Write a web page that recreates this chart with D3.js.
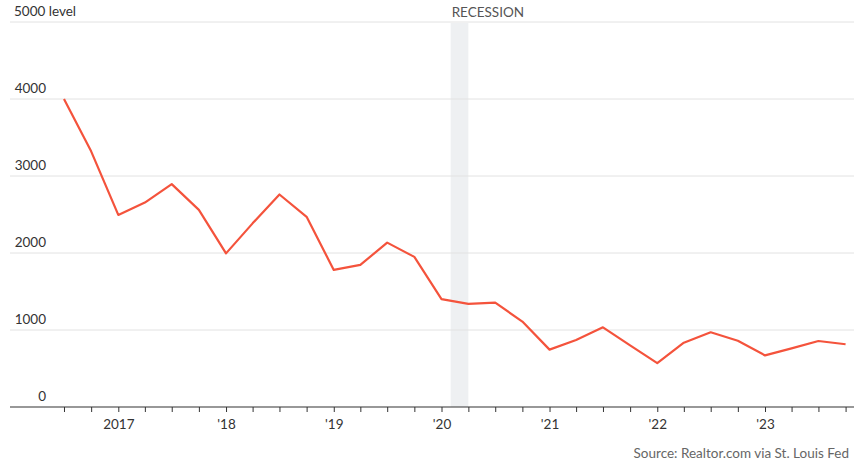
<!DOCTYPE html>
<html>
<head>
<meta charset="utf-8">
<script src="https://cdn.jsdelivr.net/npm/d3@7"></script>
<style>
  body { margin: 0; background: #fff; }
  text { font-family: Lato, "Open Sans", sans-serif; }
</style>
</head>
<body>
<script>
/*
DATA
*/
const quarters = ["2016-07-01", "2016-10-01",
  "2017-01-01", "2017-04-01", "2017-07-01", "2017-10-01",
  "2018-01-01", "2018-04-01", "2018-07-01", "2018-10-01",
  "2019-01-01", "2019-04-01", "2019-07-01", "2019-10-01",
  "2020-01-01", "2020-04-01", "2020-07-01", "2020-10-01",
  "2021-01-01", "2021-04-01", "2021-07-01", "2021-10-01",
  "2022-01-01", "2022-04-01", "2022-07-01", "2022-10-01",
  "2023-01-01", "2023-04-01", "2023-07-01", "2023-10-01"]
const levels = [4000, 3320,
  2495, 2655, 2895, 2560,
  1995, 2385, 2760, 2470,
  1780, 1845, 2135, 1950,
  1400, 1340, 1355, 1110,
  745, 870, 1035, 800,
  570, 835, 970, 860,
  670, 762, 857, 815]
const yTicks = [0, 1000, 2000, 3000, 4000, 5000]
const yearLabels = ["2017", "'18", "'19", "'20", "'21", "'22", "'23"]
const recession = ["2020-02-01", "2020-04-01"]
const source = "Source: Realtor.com via St. Louis Fed"

/*
SET UP
*/
const w = 854
const h = 463
const m = ({top: 22, right: 0, bottom: 56, left: 10})
const fs = 13.5

const parse = d3.timeParse("%Y-%m-%d")
const data = quarters.map((q, i) => ({date: parse(q), value: levels[i]}))

const svg = d3.select("body")
  .append("svg")
  .attr("width", w)
  .attr("height", h)

const x = d3.scaleTime()
  .domain([parse("2017-01-01"), parse("2023-01-01")])
  .range([118.3, 765])

const y = d3.scaleLinear()
  .domain([0, 5000])
  .range([h - m.bottom, m.top])

/*
RECESSION BAND
*/
svg.append("rect")
  .attr("x", x(parse(recession[0])))
  .attr("width", x(parse(recession[1])) - x(parse(recession[0])))
  .attr("y", y(5000) + 1)
  .attr("height", y(0) - y(5000) - 1)
  .attr("fill", "#eef0f2")

svg.append("text")
  .attr("x", x(parse(recession[0])) + 1)
  .attr("y", 17)
  .attr("fill", "#555")
  .attr("font-size", fs)
  .text("RECESSION")

/*
GRIDLINES + Y LABELS
*/
svg.selectAll(".grid")
  .data(yTicks.filter(d => d > 0))
  .join("line")
  .attr("class", "grid")
  .attr("x1", m.left)
  .attr("x2", w)
  .attr("y1", d => y(d))
  .attr("y2", d => y(d))
  .attr("stroke", "#e2e2e2")
  .attr("stroke-width", 1)

svg.selectAll(".ylabel")
  .data(yTicks)
  .join("text")
  .attr("class", "ylabel")
  .attr("x", d => d === 5000 ? 14 : 46)
  .attr("y", d => y(d) - 6)
  .attr("text-anchor", d => d === 5000 ? "start" : "end")
  .attr("fill", "#333")
  .attr("font-size", fs)
  .text(d => d === 5000 ? "5000 level" : d)

/*
X AXIS
*/
const xAxis = d3.axisBottom(x)
  .tickValues(quarters.map(parse))
  .tickSize(5)
  .tickFormat(d => d.getMonth() === 0 ? yearLabels[d.getFullYear() - 2017] : "")

const gx = svg.append("g")
  .attr("transform", `translate(0,${y(0)})`)
  .call(xAxis)

gx.select(".domain").remove()
gx.selectAll(".tick line").attr("stroke", "#333")
gx.selectAll(".tick text")
  .attr("fill", "#333")
  .attr("font-size", fs)
  .attr("font-family", "Lato, sans-serif")
  .attr("dy", "1.05em")

gx.append("line")
  .attr("x1", m.left)
  .attr("x2", w)
  .attr("stroke", "#333")
  .attr("stroke-width", 1.2)

/*
LINE
*/
const line = d3.line()
  .x(d => x(d.date))
  .y(d => y(d.value))

svg.append("path")
  .datum(data)
  .attr("d", line)
  .attr("fill", "none")
  .attr("stroke", "#f4533c")
  .attr("stroke-width", 2.2)
  .attr("stroke-linejoin", "round")

svg.append("text")
  .attr("x", 849)
  .attr("y", 458)
  .attr("text-anchor", "end")
  .attr("fill", "#666")
  .attr("font-size", fs)
  .text(source)
</script>
</body>
</html>
